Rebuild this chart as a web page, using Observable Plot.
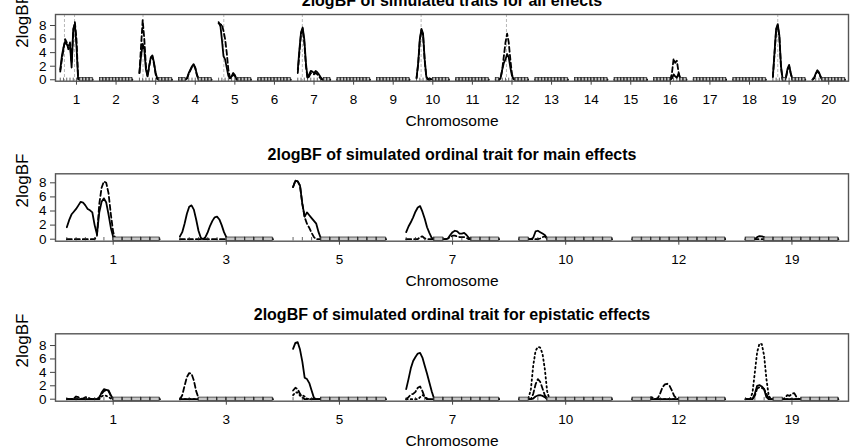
<!DOCTYPE html>
<html>
<head>
<meta charset="utf-8">
<script src="https://cdn.jsdelivr.net/npm/d3@7"></script>
<script src="https://cdn.jsdelivr.net/npm/@observablehq/plot@0.6"></script>
<style>
  body { margin: 0; background: #fff; }
  #chart { position: relative; width: 862px; height: 448px; overflow: hidden; background: #fff; }
  #chart > svg { position: absolute; left: 0; }
</style>
</head>
<body>
<div id="chart"></div>
<script>
// ---- chromosomes shown in each panel ----
const chromsAll = ["1","2","3","4","5","6","7","8","9","10","11","12","13","14","15","16","17","18","19","20"];
const chromsSel = ["1","3","5","7","10","12","19"];

// ---- panel 1: all effects, 2logBF every 5 cM (0..100) ----
const allSolid = {
  "1":  [1.5,3.5,4.8,5.6,5.2,5.0,5.2,1.8,7.5,8.2,5.0,0.1,0,0,0,0,0,0,0,0,0],
  "3":  [1.0,3.5,5.3,4.5,1.5,0.5,2.0,3.3,3.6,2.5,1.0,0.2,0,0,0,0,0,0,0,0,0],
  "4":  [0,0,0,0,0,0.3,1.0,1.5,2.0,2.3,1.8,0.8,0.1,0,0,0,0,0,0,0,0],
  "5":  [8.3,8.2,6.0,3.5,3.0,1.8,0.6,0.2,0.5,1.0,0.7,0.1,0,0,0,0,0,0,0,0,0],
  "7":  [1.5,4.5,7.0,7.7,6.0,2.5,0.3,0.8,1.3,1.2,1.0,1.3,1.1,0.8,0.4,0.1,0,0,0,0,0],
  "10": [0.3,2.5,6.0,7.5,6.8,3.0,0.5,0.1,0.2,0.1,0,0,0,0,0,0,0,0,0,0,0],
  "12": [0,0,0,0.3,1.5,2.5,3.0,3.8,3.3,1.8,0.6,0.1,0,0,0,0,0,0,0,0,0],
  "16": [0,0,0,0,0,0,0,0,0,0,0,0.2,0.8,0.5,0.3,0.9,0.3,0,0,0,0],
  "19": [0.5,4.0,7.5,8.2,6.5,2.0,0.1,0,0.3,1.6,2.2,1.0,0.1,0,0,0,0,0,0,0,0],
  "20": [0,0.3,0.9,1.4,1.1,0.5,0.1,0,0,0,0,0,0,0,0,0,0,0,0,0,0]
};
const allDashed = {
  "1":  [1.2,3.0,4.5,6.0,5.5,4.5,5.5,2.5,7.0,8.5,6.0,0.3,0,0,0,0,0,0,0,0,0],
  "3":  [1.0,5.0,8.8,6.0,2.0,0.5,2.0,3.2,3.4,2.3,0.8,0.1,0,0,0,0,0,0,0,0,0],
  "4":  [0,0,0,0,0,0.2,0.9,1.4,1.9,2.2,1.7,0.7,0.1,0,0,0,0,0,0,0,0],
  "5":  [8.5,8.0,8.2,7.2,6.0,4.0,1.5,0.3,0.3,0.8,0.6,0,0,0,0,0,0,0,0,0,0],
  "7":  [1.0,4.0,6.8,7.5,5.5,2.0,0.2,0.5,1.0,0.9,0.8,1.0,0.8,0.5,0.2,0,0,0,0,0,0],
  "10": [0.2,2.3,5.8,7.3,6.6,2.8,0.4,0,0,0,0,0,0,0,0,0,0,0,0,0,0],
  "12": [0,0,0,0.2,1.5,3.5,5.5,6.8,5.5,3.0,0.8,0.1,0,0,0,0,0,0,0,0,0],
  "16": [0,0,0,0,0,0,0,0,0,0,0,1.0,3.1,2.5,2.8,1.2,0.2,0,0,0,0],
  "19": [0.4,3.8,7.3,8.0,6.3,1.8,0,0,0.2,1.4,2.0,0.9,0,0,0,0,0,0,0,0,0],
  "20": [0,0.2,0.8,1.3,1.0,0.4,0,0,0,0,0,0,0,0,0,0,0,0,0,0,0]
};
// simulated QTL positions (chromosome, cM)
const qtlChrom = ["1","1","3","5","7","10","12","19"];
const qtlCM    = [13, 44, 11, 16, 14, 14, 33, 15];

// ---- panel 2: main effects, 2logBF every 2.5 cM (0..100) ----
const mainSolid = {
  "1":  [1.7,2.7,3.5,3.9,4.3,4.8,5.3,5.2,4.8,4.3,4.1,3.8,2.0,0.7,3.8,5.3,5.8,5.2,3.5,1.6,0.3,0,0,0,0,0,0,0,0,0,0,0,0,0,0,0,0,0,0,0,0],
  "3":  [0.4,1.0,2.2,3.6,4.6,4.8,4.2,2.8,1.2,0.2,0,0.3,1.0,1.9,2.6,3.1,3.2,2.8,2.0,1.0,0.3,0,0,0,0,0,0,0,0,0,0,0,0,0,0,0,0,0,0,0,0],
  "5":  [7.4,8.3,8.2,7.6,5.0,3.2,3.8,3.4,3.0,2.6,2.2,1.0,0.1,0,0,0,0,0,0,0,0,0,0,0,0,0,0,0,0,0,0,0,0,0,0,0,0,0,0,0,0],
  "7":  [1.0,1.8,2.4,3.1,3.9,4.5,4.7,3.9,2.9,1.7,0.9,0.2,0,0,0,0,0,0,0.1,0.6,1.0,1.2,1.1,0.8,0.8,0.9,0.6,0.2,0,0,0,0,0,0,0,0,0,0,0,0,0],
  "10": [0,0,0,0,0,0,0.2,1.1,1.2,1.0,0.8,0.6,0.1,0,0,0,0,0,0,0,0,0,0,0,0,0,0,0,0,0,0,0,0,0,0,0,0,0,0,0,0],
  "19": [0,0,0,0,0,0.3,0.45,0.4,0.3,0,0,0,0,0,0,0,0,0,0,0,0,0,0,0,0,0,0,0,0,0,0,0,0,0,0,0,0,0,0,0,0]
};
const mainDashed = {
  "1":  [0,0,0,0,0,0,0,0,0,0,0,0,0,0.5,5.0,7.3,8.2,8.0,6.5,3.5,1.0,0,0,0,0,0,0,0,0,0,0,0,0,0,0,0,0,0,0,0,0],
  "5":  [7.4,8.3,8.2,7.6,5.0,3.1,2.2,1.6,0.9,0.3,0,0,0,0,0,0,0,0,0,0,0,0,0,0,0,0,0,0,0,0,0,0,0,0,0,0,0,0,0,0,0],
  "7":  [0,0,0,0,0,0,0.3,0.4,0.1,0,0,0,0,0,0,0,0,0,0.1,0.3,0.5,0.5,0.4,0.3,0.3,0.3,0.2,0,0,0,0,0,0,0,0,0,0,0,0,0,0],
  "10": [0,0,0,0,0,0,0,0,0,0.1,0.3,0.4,0.1,0,0,0,0,0,0,0,0,0,0,0,0,0,0,0,0,0,0,0,0,0,0,0,0,0,0,0,0]
};

// ---- panel 3: epistatic effects, 2logBF every 2.5 cM (0..100) ----
const epiSolid = {
  "1":  [0,0,0,0,0,0,0,0,0,0,0,0,0,0,0.2,1.0,1.5,1.4,1.3,0.6,0,0,0,0,0,0,0,0,0,0,0,0,0,0,0,0,0,0,0,0,0],
  "5":  [7.5,8.4,8.5,7.4,5.6,3.2,3.0,2.4,1.3,0.2,0,0,0,0,0,0,0,0,0,0,0,0,0,0,0,0,0,0,0,0,0,0,0,0,0,0,0,0,0,0,0],
  "7":  [1.5,3.0,4.6,5.7,6.3,6.8,6.9,6.2,5.0,3.8,2.5,1.2,0.1,0,0,0,0,0,0,0,0,0,0,0,0,0,0,0,0,0,0,0,0,0,0,0,0,0,0,0,0],
  "10": [0,0,0,0,0,0,0.1,0.4,0.55,0.6,0.5,0.3,0,0,0,0,0,0,0,0,0,0,0,0,0,0,0,0,0,0,0,0,0,0,0,0,0,0,0,0,0],
  "19": [0,0,0,0,0.8,2.0,2.1,1.9,1.5,0.3,0,0,0,0,0,0,0,0,0,0,0,0,0,0,0,0,0,0,0,0,0,0,0,0,0,0,0,0,0,0,0]
};
const epiDashed = {
  "1":  [0,0,0,0.1,0.4,0.3,0.1,0.1,0.3,0.3,0.1,0,0,0,0.3,0.8,1.2,1.4,1.2,0.5,0,0,0,0,0,0,0,0,0,0,0,0,0,0,0,0,0,0,0,0,0],
  "3":  [0,0.6,2.0,3.3,3.9,3.8,2.8,1.2,0.2,0,0,0,0,0,0,0,0,0,0,0,0,0,0,0,0,0,0,0,0,0,0,0,0,0,0,0,0,0,0,0,0],
  "5":  [1.3,1.7,1.5,0.8,0.3,0,0,0,0,0,0,0,0,0,0,0,0,0,0,0,0,0,0,0,0,0,0,0,0,0,0,0,0,0,0,0,0,0,0,0,0],
  "7":  [0,0.3,0.7,0.8,1.1,1.7,1.9,1.2,0.3,0,0,0,0,0,0,0,0,0,0,0,0,0,0,0,0,0,0,0,0,0,0,0,0,0,0,0,0,0,0,0,0],
  "10": [0,0,0,0,0,0,0.8,2.2,3.0,2.6,1.6,0.6,0.1,0,0,0,0,0,0,0,0,0,0,0,0,0,0,0,0,0,0,0,0,0,0,0,0,0,0,0,0],
  "12": [0,0,0,0,0,0,0,0,0.3,0.2,0,0.2,0.9,1.8,2.2,2.3,2.0,1.3,0.5,0.1,0,0,0,0,0,0,0,0,0,0,0,0,0,0,0,0,0,0,0,0,0],
  "19": [0,0,0,0,0.5,1.6,1.8,1.7,1.5,0.8,0.1,0,0,0,0,0,0,0.2,0.6,0.5,0.8,0.9,0.3,0,0,0,0,0,0,0,0,0,0,0,0,0,0,0,0,0,0]
};
const epiDotted = {
  "1":  [0,0,0,0,0,0,0,0,0,0,0,0,0,0,0,0.4,0.6,0.5,0.3,0.1,0,0,0,0,0,0,0,0,0,0,0,0,0,0,0,0,0,0,0,0,0],
  "5":  [0.6,1.0,1.0,0.5,0.6,0.4,0.1,0,0,0,0,0,0,0,0,0,0,0,0,0,0,0,0,0,0,0,0,0,0,0,0,0,0,0,0,0,0,0,0,0,0],
  "7":  [0,0,0,0,0,0,0.3,0.6,0.4,0.1,0,0,0,0,0,0,0,0,0,0,0,0,0,0,0,0,0,0,0,0,0,0,0,0,0,0,0,0,0,0,0],
  "10": [0,0,0,0,0.2,1.5,5.0,7.2,7.8,7.7,6.8,4.5,1.2,0,0,0,0,0,0,0,0,0,0,0,0,0,0,0,0,0,0,0,0,0,0,0,0,0,0,0,0],
  "19": [0,0,0,1.0,4.0,7.0,8.3,8.2,6.5,3.0,0.5,0,0,0,0,0,0,0,0,0,0,0,0,0,0,0,0,0,0,0,0,0,0,0,0,0,0,0,0,0,0]
};

const yTicks = [0, 2, 4, 6, 8];
const markersCM = [0,10,20,30,40,50,60,70,80,90,100];

// ---- layout helpers ----
const SPAN = 0.82;                       // share of a chromosome slot used by its map
const pos = (ci, cm) => ci + 1 + (cm / 100 - 0.5) * SPAN;
const FONT = "'Liberation Sans', Arial, Helvetica, sans-serif";

function curveRows(chroms, values, n) {
  const rows = [];
  chroms.forEach((c, ci) => {
    const v = values[c] || new Array(n).fill(0);
    v.forEach((val, i) => rows.push({chrom: c, x: pos(ci, i * 100 / (n - 1)), y: val}));
  });
  return rows;
}

// marker intervals where every curve sits on zero
function zeroBoxes(chroms, valueSets, n) {
  const per = (n - 1) / 10;
  const boxes = [];
  chroms.forEach((c, ci) => {
    for (let j = 0; j < 10; j++) {
      let flat = true;
      for (const vs of valueSets) {
        const v = vs[c];
        if (!v) continue;
        for (let k = j * per + 1; k < (j + 1) * per; k++) if (v[k] > 0) flat = false;
      }
      if (flat) boxes.push({x1: pos(ci, markersCM[j]), x2: pos(ci, markersCM[j + 1])});
    }
  });
  return boxes;
}

function panel(cfg) {
  const {top, height, frameTop, frameBottom, yDomain, xDomain, chroms, n, series, title, titleDy, qtl} = cfg;
  const marks = [];
  if (qtl) {
    marks.push(Plot.ruleX(qtl, {x: "x", stroke: "#b0b0b0", strokeWidth: 0.9, strokeDasharray: "3,2"}));
  }
  for (const s of series) {
    marks.push(Plot.line(curveRows(chroms, s.values, n), {
      x: "x", y: "y", z: "chrom", stroke: "#000", strokeWidth: 1.8,
      strokeDasharray: s.dash, strokeLinejoin: "round"
    }));
  }
  const boxes = zeroBoxes(chroms, series.map(s => s.values), n);
  marks.push(Plot.rect(boxes, {x1: "x1", x2: "x2", y1: -0.25, y2: 0.24, fill: "#c6c6c6", stroke: "#222", strokeWidth: 0.7}));
  const markers = chroms.flatMap((c, ci) => markersCM.map(cm => ({x: pos(ci, cm)})));
  marks.push(Plot.ruleX(markers, {x: "x", y1: -0.25, y2: 0.24, stroke: "#222", strokeWidth: 0.7}));
  marks.push(Plot.frame({stroke: "#555", strokeWidth: 1.4}));
  marks.push(Plot.axisY({ticks: yTicks, label: null, tickSize: 5, tickPadding: 4, fontSize: 13.5, stroke: "#444"}));
  marks.push(Plot.axisX({
    ticks: chroms.map((c, i) => i + 1), tickFormat: d => chroms[d - 1], label: null,
    tickSize: 4, tickPadding: 9, fontSize: 13.5, stroke: "#444"
  }));
  marks.push(Plot.text([title], {text: d => d, frameAnchor: "top", dy: titleDy, lineAnchor: "bottom",
    fontWeight: "bold", fontSize: 16}));
  marks.push(Plot.text(["Chromosome"], {text: d => d, frameAnchor: "bottom", dy: 39.5, lineAnchor: "middle", fontSize: 15.5}));
  marks.push(Plot.text(["2logBF"], {text: d => d, frameAnchor: "left", dx: -32.5, rotate: -90, lineAnchor: "middle", fontSize: 17}));

  const svg = Plot.plot({
    width: 862, height,
    marginLeft: 55, marginRight: 14, marginTop: frameTop, marginBottom: height - frameBottom,
    x: {domain: xDomain, label: null},
    y: {domain: yDomain, label: null},
    style: {fontFamily: FONT, background: "transparent", overflow: "visible"},
    marks
  });
  svg.style.top = top + "px";
  return svg;
}

const chart = document.getElementById("chart");

const qtlRows = qtlChrom.map((c, i) => ({x: pos(chromsAll.indexOf(c), qtlCM[i])}));

chart.append(panel({
  top: 0, height: 130, frameTop: 14, frameBottom: 80.7,
  yDomain: [-0.21, 9.62], xDomain: [0.47, 20.5],
  chroms: chromsAll, n: 21,
  series: [{values: allDashed, dash: "5,3"}, {values: allSolid, dash: null}],
  title: "2logBF of simulated traits for all effects", titleDy: -9,
  qtl: qtlRows
}));

chart.append(panel({
  top: 140, height: 150, frameTop: 33.3, frameBottom: 100.7,
  yDomain: [-0.284, 9.28], xDomain: [0.49, 7.5],
  chroms: chromsSel, n: 41,
  series: [{values: mainDashed, dash: "5,3"}, {values: mainSolid, dash: null}],
  title: "2logBF of simulated ordinal trait for main effects", titleDy: -13.5
}));

chart.append(panel({
  top: 300, height: 148, frameTop: 33.3, frameBottom: 100.7,
  yDomain: [-0.298, 9.75], xDomain: [0.49, 7.5],
  chroms: chromsSel, n: 41,
  series: [{values: epiDotted, dash: "1.5,3"}, {values: epiDashed, dash: "5,3"}, {values: epiSolid, dash: null}],
  title: "2logBF of simulated ordinal trait for epistatic effects", titleDy: -13.5
}));
</script>
</body>
</html>
